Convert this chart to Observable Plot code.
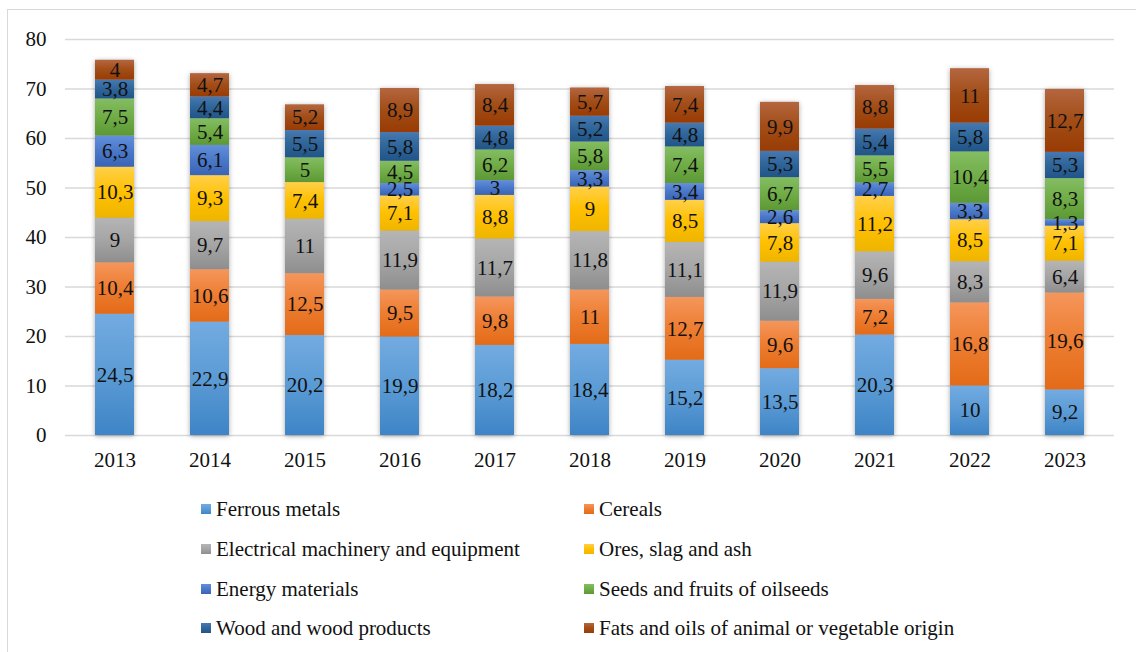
<!DOCTYPE html>
<html>
<head>
<meta charset="utf-8">
<script src="https://cdn.jsdelivr.net/npm/d3@7"></script>
<script src="https://cdn.jsdelivr.net/npm/@observablehq/plot@0.6"></script>
<style>
  html, body { margin: 0; padding: 0; background: #fff; overflow: hidden; }
  body { width: 1136px; height: 652px; position: relative; font-family: "Liberation Serif", "Times New Roman", serif; }
  #frame { position: absolute; left: 7px; top: 9px; width: 1200px; height: 700px; border: 1.3px solid #d9d9d9; box-sizing: border-box; }
  #chart { position: absolute; left: 0; top: 0; }
  #chart svg g[aria-label="bar"] { filter: drop-shadow(0px 1px 2.5px rgba(0,0,0,0.35)); }
  #legend { position: absolute; left: 0; top: 0; }
  .item { position: absolute; height: 26px; display: flex; align-items: center; font-size: 21px; color: #111; white-space: nowrap; }
  .swatch { width: 10px; height: 10px; margin-right: 5px; }
</style>
</head>
<body>
<div id="frame"></div>
<svg width="0" height="0" style="position:absolute"><defs id="grads"></defs></svg>
<div id="chart"></div>
<div id="legend"></div>
<script>
// Years on the x axis
const years = ["2013", "2014", "2015", "2016", "2017", "2018", "2019", "2020", "2021", "2022", "2023"];

// Series, bottom of the stack first
const seriesNames = [
  "Ferrous metals",
  "Cereals",
  "Electrical machinery and equipment",
  "Ores, slag and ash",
  "Energy materials",
  "Seeds and fruits of oilseeds",
  "Wood and wood products",
  "Fats and oils of animal or vegetable origin"
];

// Values per series, one per year
const ferrousMetals = [24.5, 22.9, 20.2, 19.9, 18.2, 18.4, 15.2, 13.5, 20.3, 10, 9.2];
const cereals       = [10.4, 10.6, 12.5, 9.5, 9.8, 11, 12.7, 9.6, 7.2, 16.8, 19.6];
const electrical    = [9, 9.7, 11, 11.9, 11.7, 11.8, 11.1, 11.9, 9.6, 8.3, 6.4];
const ores          = [10.3, 9.3, 7.4, 7.1, 8.8, 9, 8.5, 7.8, 11.2, 8.5, 7.1];
const energy        = [6.3, 6.1, 0, 2.5, 3, 3.3, 3.4, 2.6, 2.7, 3.3, 1.3];
const oilseeds      = [7.5, 5.4, 5, 4.5, 6.2, 5.8, 7.4, 6.7, 5.5, 10.4, 8.3];
const wood          = [3.8, 4.4, 5.5, 5.8, 4.8, 5.2, 4.8, 5.3, 5.4, 5.8, 5.3];
const fats          = [4, 4.7, 5.2, 8.9, 8.4, 5.7, 7.4, 9.9, 8.8, 11, 12.7];

const seriesValues = [ferrousMetals, cereals, electrical, ores, energy, oilseeds, wood, fats];

// Y axis ticks
const yTicks = [0, 10, 20, 30, 40, 50, 60, 70, 80];

// Gradient colours per series: top, middle, bottom
const gradTop = ["#73abe1", "#f5965c", "#b5b5b5", "#ffd04a", "#638fdb", "#84bd63", "#4679b2", "#b4663f"];
const gradMid = ["#5b9bd5", "#ed7d31", "#a5a5a5", "#ffc000", "#4a78c8", "#70ad47", "#2f6599", "#a24d17"];
const gradBot = ["#3e84c6", "#e36b18", "#8e8e8e", "#eeb500", "#3a64b6", "#5c9834", "#21558a", "#993b04"];

// Build per-segment vertical gradients
const defs = document.getElementById("grads");
const NS = "http://www.w3.org/2000/svg";
seriesNames.forEach((_, i) => {
  const g = document.createElementNS(NS, "linearGradient");
  g.setAttribute("id", "grad" + i);
  g.setAttribute("x1", "0"); g.setAttribute("y1", "0");
  g.setAttribute("x2", "0"); g.setAttribute("y2", "1");
  [[0, gradTop[i]], [0.5, gradMid[i]], [1, gradBot[i]]].forEach(([o, c]) => {
    const s = document.createElementNS(NS, "stop");
    s.setAttribute("offset", o);
    s.setAttribute("stop-color", c);
    g.appendChild(s);
  });
  defs.appendChild(g);
});

// Long table for Plot
const rows = [];
years.forEach((year, j) => {
  seriesNames.forEach((series, i) => {
    rows.push({year, series, idx: i, value: seriesValues[i][j]});
  });
});

const fmt = v => String(v).replace(".", ",");

const chart = Plot.plot({
  width: 1136,
  height: 475,
  marginTop: 39,
  marginBottom: 40,
  marginLeft: 65,
  marginRight: 22,
  style: {fontFamily: "'Liberation Serif', 'Times New Roman', serif", fontSize: "21px", color: "#111", background: "transparent"},
  x: {domain: years, paddingInner: 0.585, paddingOuter: 0.2925, label: null},
  y: {domain: [0, 80], label: null},
  color: {type: "identity"},
  marks: [
    Plot.ruleY(yTicks, {stroke: "#d9d9d9", strokeWidth: 1.3}),
    Plot.barY(rows, Plot.stackY({
      x: "year", y: "value", z: "series", order: seriesNames,
      fill: d => `url(#grad${d.idx})`
    })),
    Plot.text(rows.filter(d => d.value > 0), Plot.stackY({
      x: "year", y: "value", z: "series", order: seriesNames,
      text: d => fmt(d.value), fontSize: 21, fill: "#111"
    })),
    Plot.axisX({tickSize: 0, tickPadding: 17, fontSize: 21, label: null}),
    Plot.axisY({ticks: yTicks, tickSize: 0, tickPadding: 19, fontSize: 21, label: null})
  ]
});
document.getElementById("chart").appendChild(chart);

// Legend in two columns
const legend = document.getElementById("legend");
const colX = [201, 584];
const rowY = [509, 549, 589, 628];
seriesNames.forEach((name, i) => {
  const item = document.createElement("div");
  item.className = "item";
  item.style.left = colX[i % 2] + "px";
  item.style.top = (rowY[Math.floor(i / 2)] - 13) + "px";
  const sw = document.createElement("span");
  sw.className = "swatch";
  sw.style.background = `linear-gradient(${gradTop[i]}, ${gradMid[i]}, ${gradBot[i]})`;
  const label = document.createElement("span");
  label.textContent = name;
  item.appendChild(sw);
  item.appendChild(label);
  legend.appendChild(item);
});
</script>
</body>
</html>
